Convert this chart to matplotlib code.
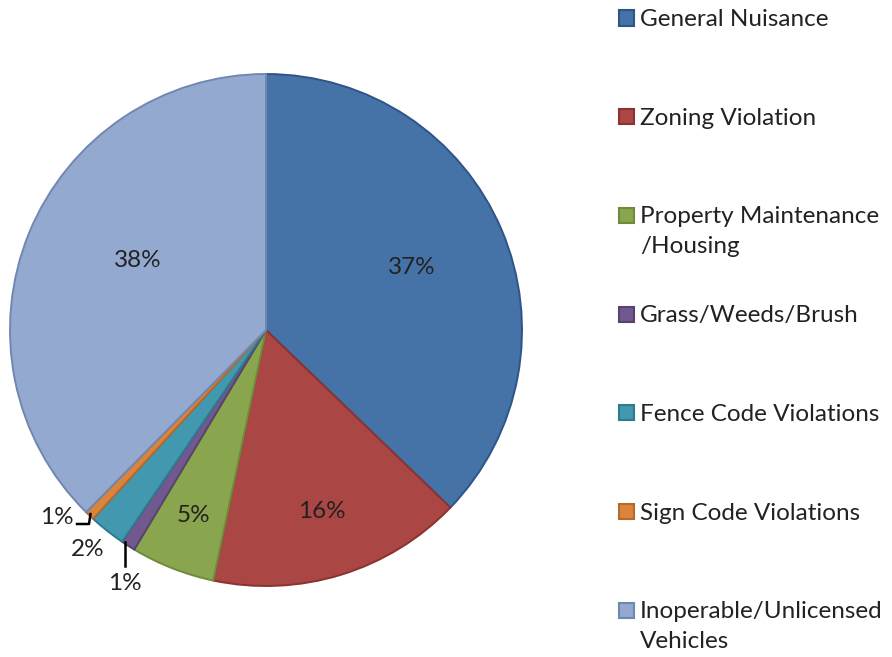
import matplotlib
matplotlib.use("Agg")
import matplotlib.pyplot as plt
from matplotlib.patches import Rectangle
import numpy as np
import math

categories = ["General Nuisance", "Zoning Violation", "Property Maintenance\n/Housing",
              "Grass/Weeds/Brush", "Fence Code Violations", "Sign Code Violations",
              "Inoperable/Unlicensed\nVehicles"]
values = [37.2, 16.1, 5.3, 0.9, 2.3, 0.6, 37.6]
colors = ["#4572A7", "#AA4643", "#89A54E", "#71588F", "#4198AF", "#DB843D", "#93A9CF"]
edges = ["#2F5588", "#8A3330", "#6E8A3A", "#574270", "#2E7A8E", "#B8692A", "#7088B0"]

W, H = 892, 657
fig = plt.figure(figsize=(W / 100, H / 100), dpi=100)
plt.rcParams['font.family'] = ['Lato', 'DejaVu Sans']
FS = 17.5

cx, cy, r = 266, 330, 256
ax = fig.add_axes([(cx - r) / W, (H - cy - r) / H, 2 * r / W, 2 * r / H])

wedges, _ = ax.pie(values, colors=colors, startangle=90, counterclock=False, radius=1,
                   wedgeprops=dict(linewidth=1.4))
for w, e in zip(wedges, edges):
    w.set_edgecolor(e)
ax.set_xlim(-1, 1)
ax.set_ylim(-1, 1)
ax.set_aspect('equal')
ax.axis('off')

total = sum(values)
labels = [f"{math.floor(v / total * 100 + 0.5)}%" for v in values]

# large slice labels along the mid-angle
dist = {0: 0.62, 1: 0.74, 2: 0.78, 6: 0.57}
angoff = {6: -6}
for i, d in dist.items():
    w = wedges[i]
    a = np.deg2rad((w.theta1 + w.theta2) / 2 + angoff.get(i, 0))
    ax.text(d * np.cos(a), d * np.sin(a), labels[i], ha='center', va='center',
            fontsize=FS, color='#222222')

def p2d(x, y):
    return (x - cx) / r, (cy - y) / r

# small slice labels with leader lines
ax.text(*p2d(57, 517), labels[5], ha='center', va='center', fontsize=FS, color='#222222')
xs, ys = zip(p2d(77, 524), p2d(89, 524), p2d(90.5, 514))
ax.plot(xs, ys, color='black', lw=1.8, clip_on=False)
ax.text(*p2d(88, 549), labels[4], ha='center', va='center', fontsize=FS, color='#222222')
ax.text(*p2d(125, 583), labels[3], ha='center', va='center', fontsize=FS, color='#222222')
xs, ys = zip(p2d(125, 566), p2d(125, 542))
ax.plot(xs, ys, color='black', lw=1.8, clip_on=False)

# legend (manual)
sq = 15
for i, (cat, c, e) in enumerate(zip(categories, colors, edges)):
    yc = 18 + i * 98.7
    fig.patches.append(Rectangle(((626 - sq / 2) / W, (H - yc - sq / 2) / H), sq / W, sq / H,
                                 transform=fig.transFigure, facecolor=c, edgecolor=e, lw=1.5))
    fig.text(640 / W, (H - yc + 9) / H, cat, ha='left', va='top', fontsize=FS,
             color='#222222', linespacing=1.5)

fig.savefig("out.png", dpi=100, facecolor='white')
